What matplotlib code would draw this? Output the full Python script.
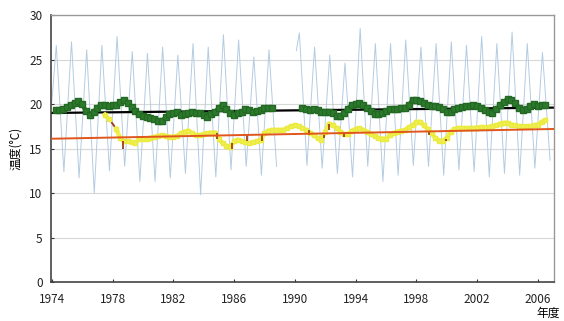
import matplotlib.pyplot as plt
import numpy as np

plt.rcParams['font.family'] = ['Noto Sans CJK JP', 'DejaVu Sans']

# monthly water temperature: summer peak / winter low per fiscal year (None = no data)
fy = list(range(1974, 2007))
peak = [26.6, 27.0, 26.1, 26.6, 27.6, 25.9, 25.7, 26.4, 25.5, 26.8, 26.4, 27.8, 27.2, 25.3, 26.1,
        None, 28.0, 26.4, 25.5, 24.6, 28.5, 26.8, 26.8, 27.2, 26.4, 26.8, 27.0, 26.6, 27.6, 26.8,
        28.1, 26.8, 25.8]
low = [12.4, 11.7, 10.0, 12.5, 13.0, 11.3, 11.3, 11.7, 12.2, 9.8, 11.8, 12.6, 13.0, 12.0, 13.0,
       None, 13.1, 12.8, 12.2, 11.8, 13.0, 11.3, 12.0, 13.1, 13.0, 12.0, 12.6, 12.4, 11.8, 12.2,
       12.0, 12.8, 13.7]
first_val = 20.2      # April 1974
restart_val = 26.0    # first month after the gap

# 12-month running mean, site A (green), quarterly readings
green_t1 = np.arange(1974.25, 1988.51, 0.25)
green_v1 = [19.3, 19.35, 19.5, 19.7, 19.95, 20.15, 20.3, 20.0, 19.2, 18.8, 19.1, 19.6, 19.9, 19.85,
            19.8, 19.85, 19.9, 20.2, 20.45, 20.1, 19.7, 19.2, 18.9, 18.7, 18.55, 18.45, 18.3, 18.1,
            18.1, 18.5, 18.85, 19.05, 19.1, 18.8, 18.9, 19.0, 19.1, 19.0, 19.0, 18.8, 18.6, 18.9,
            19.1, 19.6, 19.9, 19.5, 19.0, 18.8, 18.95, 19.1, 19.45, 19.3, 19.1, 19.2, 19.35, 19.55,
            19.6, 19.6]
green_t2 = np.arange(1990.5, 2006.51, 0.25)
green_v2 = [19.6, 19.5, 19.35, 19.4, 19.3, 19.1, 19.1, 19.1, 19.0, 18.7, 18.7, 19.0, 19.5, 19.9,
            20.05, 20.1, 19.85, 19.6, 19.25, 18.9, 18.85, 19.0, 19.25, 19.45, 19.5, 19.5, 19.55,
            19.6, 19.9, 20.4, 20.4, 20.35, 20.1, 19.9, 19.8, 19.75, 19.65, 19.4, 19.1, 19.1, 19.45,
            19.55, 19.65, 19.75, 19.8, 19.9, 19.8, 19.55, 19.35, 19.15, 19.05, 19.4, 19.85, 20.25,
            20.55, 20.45, 20.1, 19.6, 19.3, 19.45, 19.8, 20.0, 19.75, 19.85, 19.9]

# 12-month running mean, site B (yellow), quarterly readings
yellow_t = np.arange(1977.5, 2006.51, 0.25)
yellow_v = [18.8, 18.3, 17.8, 17.2, 16.2, 15.8, 15.8, 15.7, 15.6, 16.1, 16.1, 16.1, 16.2, 16.3,
            16.4, 16.5, 16.4, 16.3, 16.35, 16.4, 16.7, 16.9, 17.0, 16.7, 16.5, 16.5, 16.6, 16.7,
            16.8, 16.8, 16.1, 15.6, 15.3, 15.2, 15.8, 16.0, 15.8, 15.7, 15.6, 15.7, 15.8, 16.0,
            16.7, 17.0, 17.1, 17.1, 17.1, 17.1, 17.3, 17.5, 17.6, 17.5, 17.3, 17.1, 16.8, 16.5,
            16.2, 16.0, 16.9, 17.8, 17.6, 17.3, 16.9, 16.6, 16.6, 17.0, 17.2, 17.3, 17.1, 16.9,
            16.6, 16.4, 16.2, 16.1, 16.1, 16.5, 16.7, 16.9, 17.0, 17.1, 17.4, 17.6, 18.0, 18.0,
            17.6, 17.2, 16.7, 16.2, 15.9, 15.9, 16.2, 16.9, 17.2, 17.3, 17.3, 17.3, 17.3, 17.3,
            17.35, 17.4, 17.4, 17.4, 17.5, 17.6, 17.8, 17.9, 17.9, 17.7, 17.6, 17.5, 17.5, 17.5,
            17.5, 17.6, 17.7, 18.0, 18.2]
yellow_missing = [1978.0]
# short brown drops under the yellow line
drop_t = [1978.7, 1984.85, 1985.85, 1986.85, 1987.85, 1990.95, 1991.9, 1992.25, 1993.25, 1998.85, 1999.98]
drop_hi = [15.8, 16.7, 15.6, 16.5, 16.5, 17.1, 16.5, 17.8, 16.9, 16.9, 16.1]
drop_lo = [15.0, 16.1, 15.0, 15.8, 15.8, 16.5, 16.2, 17.1, 16.3, 16.5, 15.8]

# linear trends (value at 1974 / 2007)
trend_years = [1973.9, 2007.1]
trend_a = [19.0, 19.6]
trend_b = [16.1, 17.2]

# build the monthly zigzag
bt, bv = [1974.0], [first_val]
for y, p, l in zip(fy, peak, low):
    if p is None:
        bt.append(np.nan); bv.append(np.nan)
        continue
    if y == 1990:
        bt.append(1990.1); bv.append(restart_val)
    bt += [y + 0.3, y + 0.8]
    bv += [p, l]

fig = plt.figure(figsize=(5.64, 3.21), dpi=100)
ax = fig.add_axes([0.0904, 0.1215, 0.8916, 0.8315])

for v in [5, 10, 15, 20, 25]:
    ax.axhline(v, color='#d8d8d8', lw=0.8, zorder=0)

ax.plot(bt, bv, color='#b4cce2', lw=0.7, zorder=1)

ax.plot(trend_years, trend_a, color='black', lw=1.6, zorder=2)

yv_full = np.array(yellow_v, dtype=float)
ax.plot(yellow_t, yv_full, color='#a0401a', lw=1.4, ls=(0, (3, 2)), zorder=2)
yv = yv_full.copy()
for m in yellow_missing:
    yv[np.isclose(yellow_t, m)] = np.nan
ax.plot(yellow_t, yv, color='#f0f050', lw=3.2, marker='s', ms=3, mec='#eaea40', zorder=3)
ax.vlines(drop_t, drop_lo, drop_hi, color='#a0401a', lw=1.3, zorder=4)

ax.plot(trend_years, trend_b, color='#e0561c', lw=1.4, zorder=5)

for t, v in [(green_t1, green_v1), (green_t2, green_v2)]:
    ax.plot(t, v, color='#2c7a2c', lw=3.2, marker='s', ms=3.8, mec='#236823', zorder=6)

ax.set_xlim(1973.95, 2007.05)
ax.set_ylim(0, 30)
ax.set_xticks(range(1974, 2007, 4))
ax.set_yticks(range(0, 31, 5))
ax.tick_params(axis='both', labelsize=8.5, direction='in', length=2, colors='#333333')
ax.tick_params(axis='x', pad=8)
ax.tick_params(axis='y', pad=6)
for lab in ax.get_xticklabels() + ax.get_yticklabels():
    lab.set_color('#222222')
for s in ['left', 'bottom']:
    ax.spines[s].set_color('#444444')
    ax.spines[s].set_linewidth(1.2)
for s in ['top', 'right']:
    ax.spines[s].set_color('#999999')
    ax.spines[s].set_linewidth(1.0)

ax.set_ylabel('温度(°C)', fontsize=8.5, labelpad=5)
fig.text(0.952, 0.003, '年度', fontsize=8.5, va='bottom')

fig.savefig('out.png', dpi=100)
